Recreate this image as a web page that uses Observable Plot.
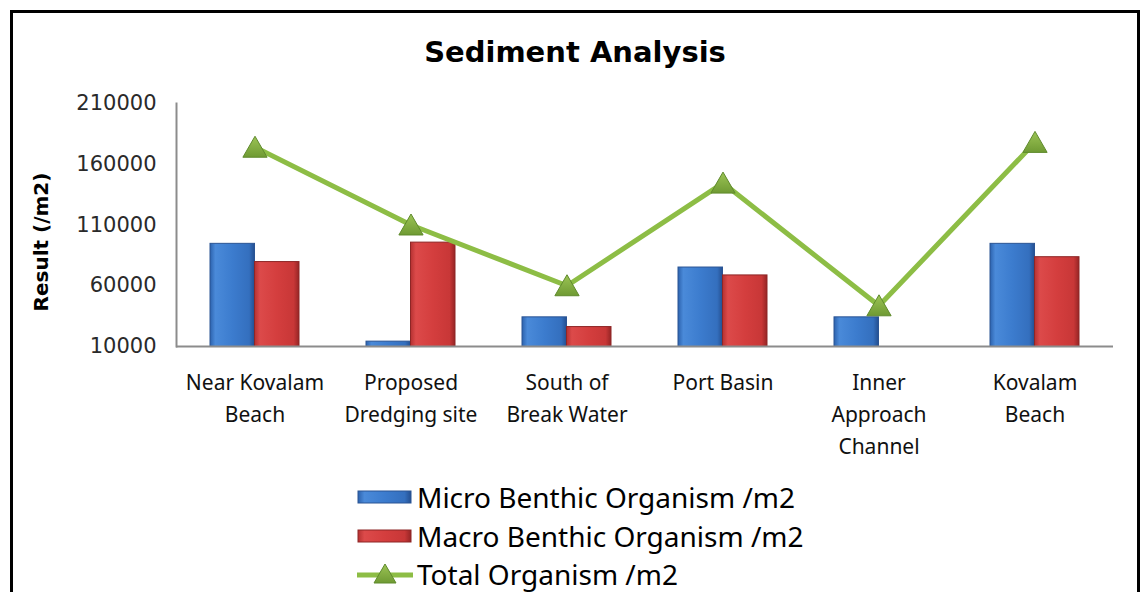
<!DOCTYPE html>
<html>
<head>
<meta charset="utf-8">
<script src="https://cdn.jsdelivr.net/npm/d3@7"></script>
<script src="https://cdn.jsdelivr.net/npm/@observablehq/plot@0.6"></script>
<style>
  html, body { margin: 0; padding: 0; background: #fff; }
  #frame { position: absolute; left: 10px; top: 10px; width: 1124px; height: 600px; border: 3px solid #000; overflow: hidden; background: #fff; }
  #title { position: absolute; left: 0; top: 25px; width: 100%; text-align: center; font-family: "DejaVu Sans", sans-serif; font-weight: bold; font-size: 29px; line-height: 29px; color: #000; }
  #chart { position: absolute; left: 0; top: 60px; }
  #legend { position: absolute; left: 344px; top: 465px; font-family: "Noto Sans", sans-serif; font-size: 28px; color: #000; }
  .row { height: 38.5px; display: flex; align-items: center; }
  .sw { width: 56px; height: 24px; margin-right: 4px; display: flex; align-items: center; justify-content: flex-start; }
</style>
</head>
<body>
<svg width="0" height="0" style="position:absolute">
  <defs>
    <linearGradient id="gBlue" x1="0" x2="1" y1="0" y2="0">
      <stop offset="0" stop-color="#2c62ad"/>
      <stop offset="0.12" stop-color="#4a8ad9"/>
      <stop offset="0.5" stop-color="#3c7cce"/>
      <stop offset="0.88" stop-color="#346fbe"/>
      <stop offset="1" stop-color="#244f90"/>
    </linearGradient>
    <linearGradient id="gRed" x1="0" x2="1" y1="0" y2="0">
      <stop offset="0" stop-color="#b53131"/>
      <stop offset="0.12" stop-color="#dc4a4a"/>
      <stop offset="0.5" stop-color="#d43e3e"/>
      <stop offset="0.88" stop-color="#c83737"/>
      <stop offset="1" stop-color="#962525"/>
    </linearGradient>
    <linearGradient id="gGreen" x1="0" x2="0" y1="0" y2="1">
      <stop offset="0" stop-color="#9cc455"/>
      <stop offset="1" stop-color="#6f9a33"/>
    </linearGradient>
  </defs>
</svg>
<div id="frame">
  <div id="title">Sediment Analysis</div>
  <div id="chart"></div>
  <div id="legend"></div>
</div>
<script>
// ---- data ----
const categories = [
  "Near Kovalam\nBeach",
  "Proposed\nDredging site",
  "South of\nBreak Water",
  "Port Basin",
  "Inner\nApproach\nChannel",
  "Kovalam\nBeach"
];
const microBenthic = [94500, 14000, 34000, 75000, 34000, 94500];
const macroBenthic = [79500, 95500, 26000, 68500, 9000, 83500];
const totalOrganism = [174000, 110000, 60000, 144500, 43500, 178000];
const yTicks = [10000, 60000, 110000, 160000, 210000];
const seriesNames = ["Micro Benthic Organism /m2", "Macro Benthic Organism /m2", "Total Organism /m2"];

const rows = categories.map((c, i) => ({cat: c, micro: microBenthic[i], macro: macroBenthic[i], total: totalOrganism[i]}));

const blueStroke = "#2a5494";
const redStroke = "#8e2626";
const lineColor = "#8dbd45";
const markerStroke = "#5f8a2c";

const chart = Plot.plot({
  width: 1124,
  height: 400,
  marginLeft: 163,
  marginRight: 24,
  marginTop: 30,
  marginBottom: 127,
  style: {fontFamily: "DejaVu Sans, sans-serif", background: "transparent"},
  x: {type: "band", domain: categories, paddingInner: 0.43, paddingOuter: 0.215, label: null},
  y: {domain: [10000, 210000], label: null},
  marks: [
    Plot.barY(rows, {x: "cat", y: "micro", clip: true, insetRight: 44.5, fill: "url(#gBlue)", stroke: blueStroke, strokeWidth: 1}),
    Plot.barY(rows, {x: "cat", y: "macro", clip: true, insetLeft: 44.5, fill: "url(#gRed)", stroke: redStroke, strokeWidth: 1}),
    Plot.ruleY([10000], {stroke: "#8c8c8c", strokeWidth: 2}),
    Plot.frame({anchor: "left", stroke: "#8c8c8c", strokeWidth: 2}),
    Plot.axisY({ticks: yTicks, tickSize: 0, tickPadding: 20, fontSize: 21, fill: "#2a2a2a", tickFormat: d => String(d), label: null}),
    Plot.axisX({tickSize: 0, tickPadding: 21, fontSize: 21, fill: "#111", lineHeight: 1.52, fontFamily: "Noto Sans, sans-serif", label: null}),
    Plot.text(["Result (/m2)"], {frameAnchor: "left", rotate: -90, dx: -135, dy: 17, fontSize: 20, fontWeight: "bold", fill: "#000", textAnchor: "middle", lineAnchor: "middle"}),
    Plot.line(rows, {x: "cat", y: "total", stroke: lineColor, strokeWidth: 5}),
    Plot.dot(rows, {x: "cat", y: "total", symbol: "triangle", r: 9, dy: 3, fill: "url(#gGreen)", stroke: markerStroke, strokeWidth: 1})
  ]
});
document.getElementById("chart").appendChild(chart);

// ---- legend ----
const legend = document.getElementById("legend");
const swatches = [
  `<svg width="56" height="24"><rect x="1" y="6" width="53" height="12" fill="url(#gBlue)" stroke="${blueStroke}"/></svg>`,
  `<svg width="56" height="24"><rect x="1" y="6" width="53" height="12" fill="url(#gRed)" stroke="${redStroke}"/></svg>`,
  `<svg width="56" height="24"><line x1="0" y1="13" x2="56" y2="13" stroke="${lineColor}" stroke-width="5"/><path d="M28,2 L39,21 L17,21 Z" fill="url(#gGreen)" stroke="${markerStroke}"/></svg>`
];
seriesNames.forEach((name, i) => {
  const r = document.createElement("div");
  r.className = "row";
  r.innerHTML = `<div class="sw">${swatches[i]}</div><span>${name}</span>`;
  legend.appendChild(r);
});
</script>
</body>
</html>
